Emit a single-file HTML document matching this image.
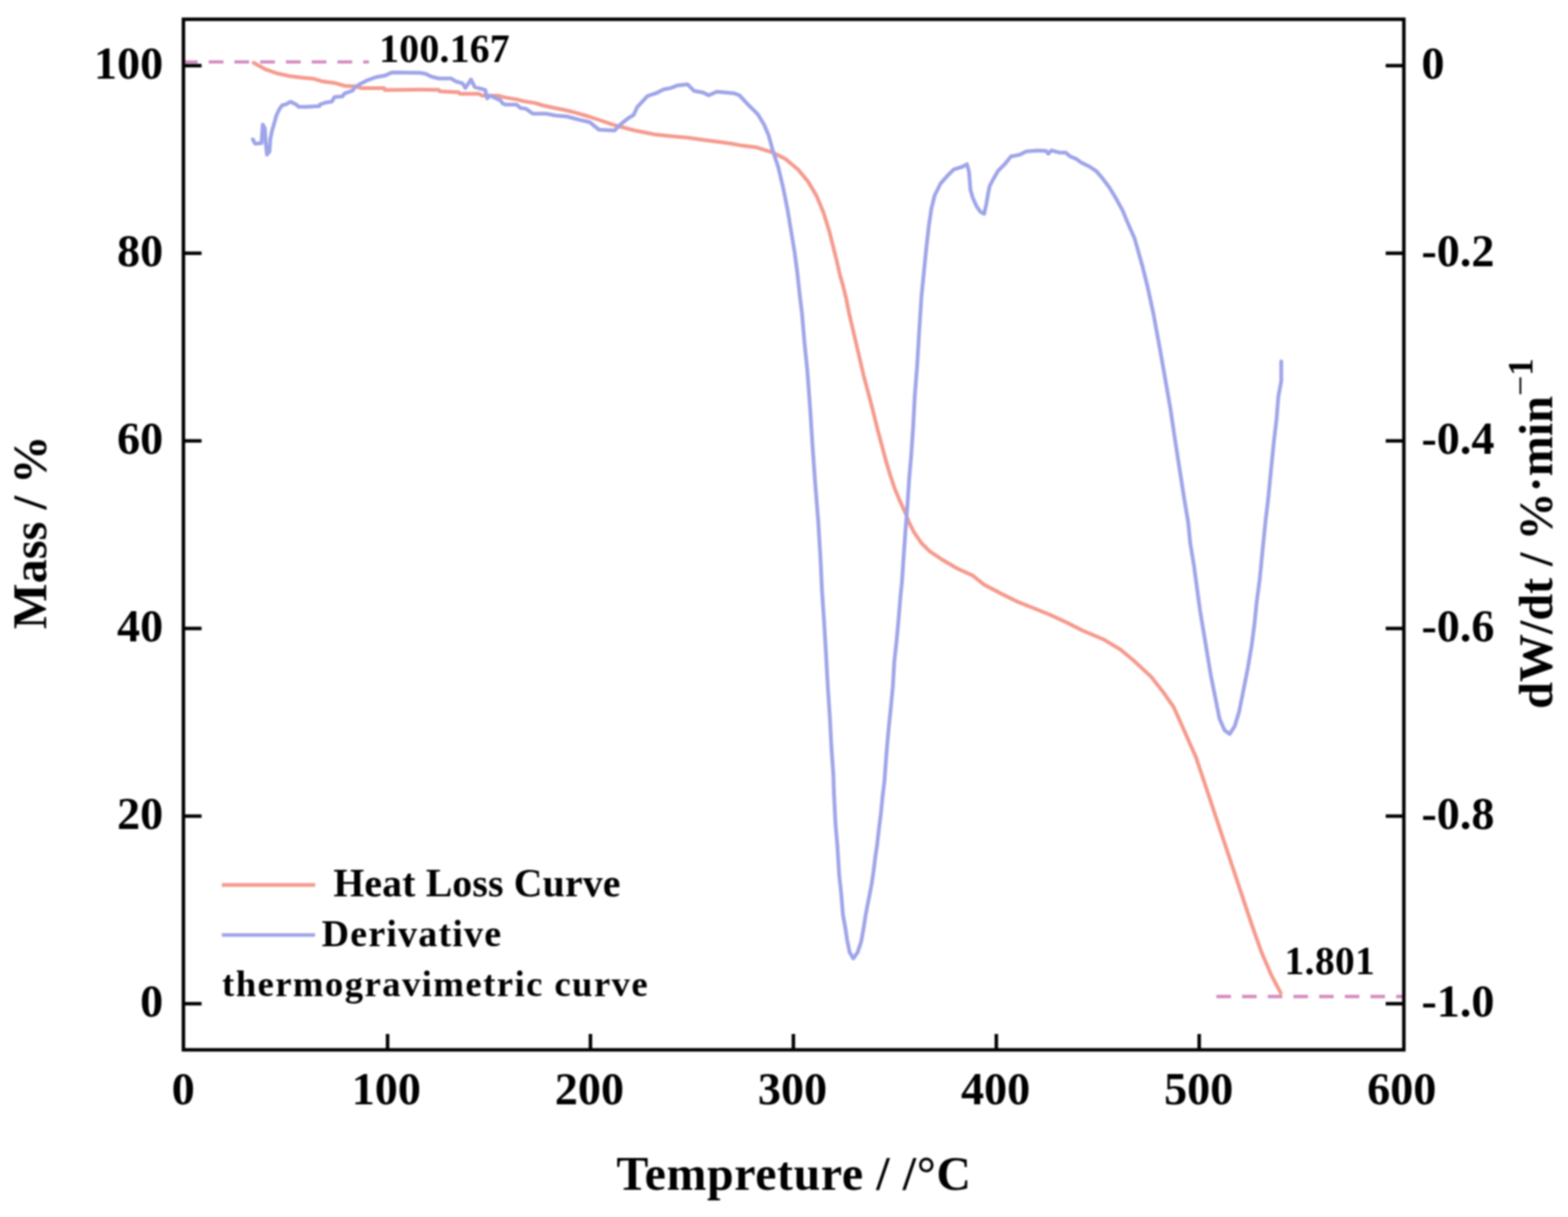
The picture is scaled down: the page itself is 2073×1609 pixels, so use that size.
<!DOCTYPE html>
<html><head><meta charset="utf-8"><style>
html,body{margin:0;padding:0;background:#fff;overflow:hidden;}
svg{display:block;filter:blur(0.8px);}
text{font-family:"Liberation Serif","Times New Roman",serif;font-weight:bold;fill:#000;}
</style></head><body>
<svg width="2073" height="1609" viewBox="0 0 2073 1609">
<rect x="0" y="0" width="2073" height="1609" fill="#fff"/>
<g stroke="#d38cbf" stroke-width="4.4" fill="none">
<line x1="241.8" y1="81.9" x2="487.7" y2="81.9" stroke-dasharray="19.5 14.55"/>
<line x1="1608.2" y1="1317.5" x2="1854" y2="1317.5" stroke-dasharray="19.2 14.75"/>
</g>
<polyline points="335.3,83.0 350.9,91.6 366.3,97.0 381.7,100.4 400.0,102.7 415.4,104.3 425.5,107.4 442.4,109.7 455.6,113.5 469.4,114.3 478.7,116.6 508.0,116.6 508.8,119.0 555.0,118.6 580.1,118.8 581.3,120.7 606.4,122.0 607.7,123.9 632.8,123.9 637.8,126.4 657.8,126.4 667.9,128.9 682.9,131.4 693.0,133.9 708.0,136.4 718.0,139.5 733.1,142.7 748.1,145.8 760.7,148.9 778.3,154.0 793.3,159.0 809.6,164.6 824.1,168.5 838.6,172.4 853.1,175.3 867.5,178.1 886.8,180.1 909.0,182.0 930.2,184.9 947.6,187.3 965.9,189.7 981.4,192.6 1001.0,195.1 1021.6,201.7 1038.4,210.1 1055.1,224.1 1068.2,239.9 1079.4,258.6 1088.7,281.0 1096.2,305.2 1101.5,326.0 1106.5,346.0 1110.8,365.0 1114.5,377.5 1118.7,394.7 1122.8,415.2 1127.6,435.8 1132.4,456.3 1137.2,476.8 1142.0,497.3 1147.5,517.8 1152.9,538.4 1158.3,560.1 1160.9,570.5 1166.4,591.0 1171.9,611.5 1177.3,629.3 1182.8,645.7 1189.6,662.1 1196.5,677.1 1201.9,690.8 1208.8,704.4 1218.3,718.1 1229.3,729.0 1245.7,740.0 1264.5,751.0 1286.2,761.1 1300.7,772.7 1322.4,784.3 1344.1,795.1 1365.8,803.8 1387.5,812.5 1409.2,822.6 1430.9,833.5 1459.8,845.8 1481.5,858.8 1498.9,873.3 1522.1,895.0 1538.0,915.3 1551.6,934.7 1561.2,956.0 1571.5,979.5 1581.1,1001.1 1591.7,1032.8 1602.3,1064.5 1612.8,1096.3 1623.4,1128.0 1634.0,1159.7 1644.5,1191.4 1655.1,1223.1 1667.8,1259.0 1680.5,1288.6 1693.2,1312.9" fill="none" stroke="#f59a8d" stroke-width="5.0" stroke-linejoin="round" stroke-linecap="round"/>
<polyline points="334.2,184.3 337.3,189.9 345.7,189.3 347.4,164.7 350.2,169.8 351.3,188.8 353.0,204.4 356.3,200.5 357.4,183.7 359.7,172.6 363.0,161.4 365.3,153.0 368.6,145.7 372.6,139.5 378.1,137.9 384.3,134.5 392.1,138.4 394.9,141.2 405.0,141.2 422.4,140.2 423.1,138.2 430.9,135.5 438.6,134.4 442.4,128.2 452.5,127.4 455.6,123.6 466.4,119.7 469.4,115.1 477.2,110.5 486.4,105.8 497.2,102.0 509.6,99.7 518.1,95.8 555.0,96.3 562.5,97.5 570.1,101.3 580.1,103.8 596.4,103.8 602.7,107.6 611.4,110.1 615.2,116.3 622.7,105.1 627.7,115.1 641.5,118.8 644.1,130.1 647.8,126.4 661.6,132.6 664.1,136.4 667.9,138.3 682.9,138.3 687.9,142.7 695.5,143.9 704.3,150.2 721.8,150.2 734.4,152.7 749.4,154.0 765.7,158.4 779.5,161.5 792.0,171.5 812.5,172.4 821.2,163.7 830.9,156.0 837.6,152.1 842.5,141.5 856.0,127.0 867.5,123.2 877.2,118.3 886.8,116.4 895.5,113.0 909.0,111.6 917.7,120.3 929.3,122.2 937.0,126.0 947.6,121.2 969.8,123.2 977.5,126.0 988.0,137.3 1002.0,151.3 1010.4,165.3 1016.0,178.4 1021.6,198.9 1029.0,221.3 1035.6,249.3 1041.2,277.2 1045.8,305.2 1050.5,333.2 1054.2,361.2 1057.3,390.0 1060.3,414.8 1063.5,452.1 1067.3,489.4 1071.0,539.1 1074.2,588.8 1077.7,638.4 1081.7,688.1 1084.7,737.8 1086.7,780.0 1089.3,818.9 1092.1,865.5 1094.4,907.5 1097.1,947.9 1099.1,986.7 1101.8,1025.0 1102.3,1044.2 1104.7,1091.1 1107.1,1118.5 1109.5,1157.3 1112.0,1179.9 1114.4,1209.0 1117.6,1226.8 1120.0,1242.9 1123.3,1259.1 1128.1,1267.2 1133.8,1259.1 1138.6,1244.6 1141.8,1226.8 1144.3,1210.6 1146.7,1197.7 1149.9,1181.6 1152.4,1168.6 1154.8,1152.5 1157.2,1133.1 1159.6,1116.9 1162.0,1095.9 1164.5,1076.5 1166.9,1052.3 1169.3,1032.9 1170.5,1016.0 1172.6,988.3 1175.1,960.8 1177.8,935.0 1180.4,907.5 1182.3,875.1 1185.3,847.6 1188.0,818.5 1190.4,789.4 1192.4,770.0 1194.4,740.0 1197.2,700.0 1199.9,665.0 1201.9,634.0 1204.7,602.0 1207.2,565.0 1209.3,525.1 1212.7,480.9 1215.3,436.8 1218.2,392.6 1221.5,359.5 1224.8,326.4 1228.1,297.7 1231.4,275.6 1235.8,258.0 1243.6,242.5 1252.4,232.6 1261.2,223.8 1272.3,220.5 1278.4,217.1 1281.1,227.1 1283.0,250.9 1285.9,261.0 1291.0,272.6 1296.0,279.9 1301.1,282.7 1304.0,269.7 1306.2,256.7 1308.4,245.8 1313.4,236.4 1319.2,226.3 1327.9,217.6 1336.6,206.8 1348.1,204.6 1356.8,200.3 1371.3,199.1 1382.9,199.5 1385.8,203.2 1390.1,198.8 1400.2,201.7 1408.9,201.7 1414.7,206.8 1423.4,210.4 1429.2,214.7 1440.8,220.5 1449.5,226.3 1458.1,236.4 1466.8,248.0 1475.5,262.5 1484.2,278.4 1491.4,295.8 1499.9,314.9 1509.8,349.7 1517.3,379.6 1524.8,414.4 1532.2,454.2 1539.7,496.5 1547.1,538.7 1553.4,581.0 1559.6,620.8 1565.8,660.6 1570.8,690.0 1573.7,718.9 1578.5,747.8 1582.4,776.7 1586.3,805.6 1591.1,834.5 1595.9,863.4 1600.7,892.4 1606.5,921.3 1612.3,950.2 1619.0,965.6 1625.8,970.4 1632.5,959.8 1638.3,940.5 1644.1,911.6 1649.8,882.7 1654.7,853.8 1658.5,824.9 1661.4,796.0 1665.3,767.1 1669.1,728.5 1673.0,690.0 1676.5,660.6 1680.2,623.3 1683.9,586.0 1687.7,553.7 1690.1,523.8 1693.9,503.9 1693.9,477.8" fill="none" stroke="#9ea4e8" stroke-width="5.0" stroke-linejoin="round" stroke-linecap="round"/>
<g stroke="#000" stroke-width="4.6" fill="none">
<rect x="242.5" y="25.5" width="1613.5" height="1362.5"/>
<line x1="242.5" y1="86.8" x2="266.5" y2="86.8"/><line x1="1856.0" y1="86.8" x2="1832.0" y2="86.8"/><line x1="242.5" y1="334.8" x2="266.5" y2="334.8"/><line x1="1856.0" y1="334.8" x2="1832.0" y2="334.8"/><line x1="242.5" y1="582.9" x2="266.5" y2="582.9"/><line x1="1856.0" y1="582.9" x2="1832.0" y2="582.9"/><line x1="242.5" y1="830.9" x2="266.5" y2="830.9"/><line x1="1856.0" y1="830.9" x2="1832.0" y2="830.9"/><line x1="242.5" y1="1079.0" x2="266.5" y2="1079.0"/><line x1="1856.0" y1="1079.0" x2="1832.0" y2="1079.0"/><line x1="242.5" y1="1327.0" x2="266.5" y2="1327.0"/><line x1="1856.0" y1="1327.0" x2="1832.0" y2="1327.0"/><line x1="512.4" y1="1388.0" x2="512.4" y2="1367.0"/><line x1="780.6" y1="1388.0" x2="780.6" y2="1367.0"/><line x1="1048.9" y1="1388.0" x2="1048.9" y2="1367.0"/><line x1="1317.2" y1="1388.0" x2="1317.2" y2="1367.0"/><line x1="1585.4" y1="1388.0" x2="1585.4" y2="1367.0"/>
</g>
<g font-size="61">
<text x="215.7" y="104.0" text-anchor="end">100</text><text x="215.7" y="352.0" text-anchor="end">80</text><text x="215.7" y="600.1" text-anchor="end">60</text><text x="215.7" y="848.1" text-anchor="end">40</text><text x="215.7" y="1096.2" text-anchor="end">20</text><text x="215.7" y="1344.2" text-anchor="end">0</text><text x="1879.2" y="104.0">0</text><text x="1879.2" y="352.0">-0.2</text><text x="1879.2" y="600.1">-0.4</text><text x="1879.2" y="848.1">-0.6</text><text x="1879.2" y="1096.2">-0.8</text><text x="1879.2" y="1344.2">-1.0</text><text x="242.2" y="1460.4" text-anchor="middle">0</text><text x="510.8" y="1460.4" text-anchor="middle">100</text><text x="779.2" y="1460.4" text-anchor="middle">200</text><text x="1047.8" y="1460.4" text-anchor="middle">300</text><text x="1316.2" y="1460.4" text-anchor="middle">400</text><text x="1584.8" y="1460.4" text-anchor="middle">500</text><text x="1853.2" y="1460.4" text-anchor="middle">600</text>
</g>
<text x="501.2" y="82.2" font-size="52.6" letter-spacing="0.3">100.167</text>
<text x="1698.3" y="1288.4" font-size="52" letter-spacing="0.55">1.801</text>
<line x1="293.3" y1="1170" x2="416.6" y2="1170" stroke="#f59a8d" stroke-width="4.8"/>
<line x1="293.3" y1="1236.2" x2="416.6" y2="1236.2" stroke="#9ea4e8" stroke-width="4.8"/>
<text x="440.7" y="1184.9" font-size="52.4" letter-spacing="0.29">Heat Loss Curve</text>
<text x="425.3" y="1250.8" font-size="50.2" letter-spacing="1.58">Derivative</text>
<text x="293.6" y="1317" font-size="48.5" letter-spacing="1.89">thermogravimetric curve</text>
<text x="815.1" y="1572.9" font-size="63.2" letter-spacing="0.85">Tempreture / /°C</text>
<text transform="translate(60.7,831.7) rotate(-90)" font-size="64">Mass / %</text>
<text transform="translate(2052,937.2) rotate(-90)" font-size="63.6">dW/dt / %·min<tspan dy="-26.3" font-size="48" font-weight="normal">−</tspan><tspan font-size="46">1</tspan></text>
</svg>
</body></html>
